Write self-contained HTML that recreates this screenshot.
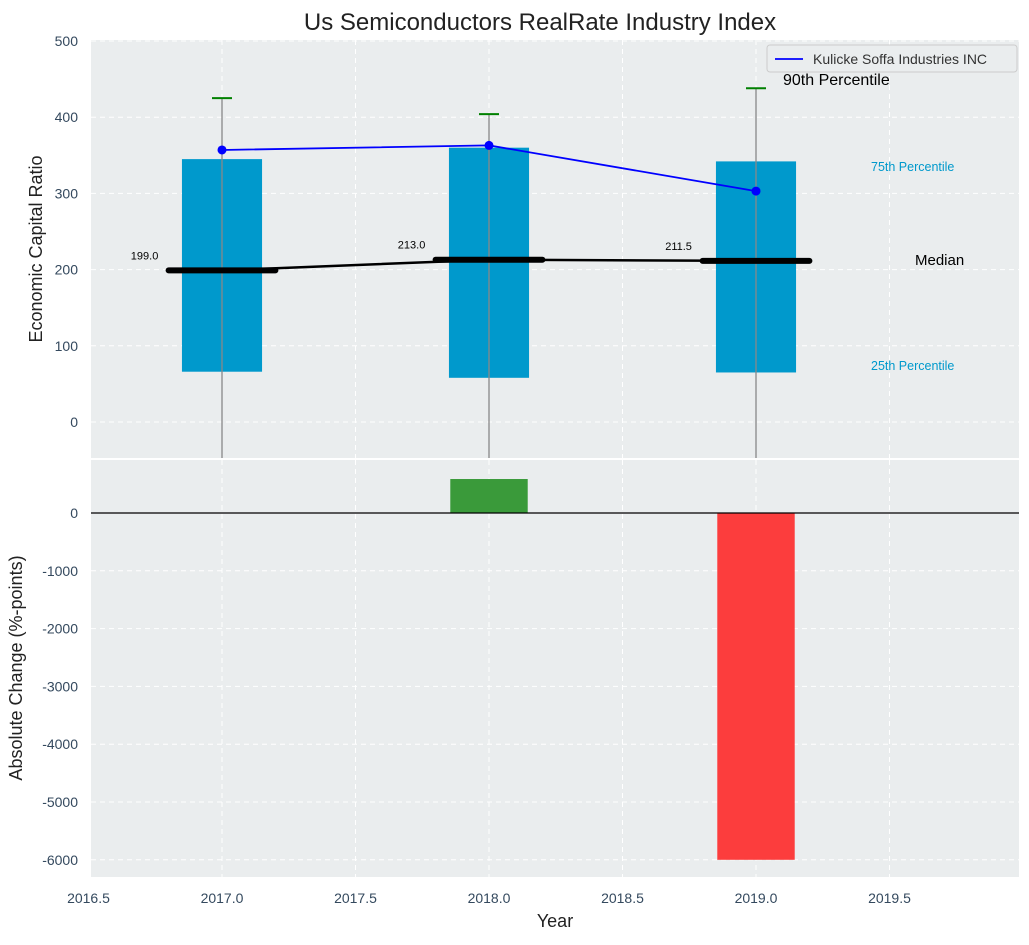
<!DOCTYPE html>
<html><head><meta charset="utf-8"><style>
body{margin:0;background:#fff;font-family:"Liberation Sans","DejaVu Sans",sans-serif}
svg text{font-family:"Liberation Sans","DejaVu Sans",sans-serif}
</style></head><body>
<svg id="c" width="1029" height="940" xmlns="http://www.w3.org/2000/svg"></svg>
<script>
const years=[2017,2018,2019];
const p25=[66,58,65];
const p75=[345,360,342];
const p90=[425,404,438];
const medians=[199,213,211.5];
const medianLabels=["199.0","213.0","211.5"];
const company=[357,363,303];
const changes=[0,588,-6000];
const xTicks=[2016.5,2017,2017.5,2018,2018.5,2019,2019.5];
const yTicksTop=[0,100,200,300,400,500];
const yTicksBot=[0,-1000,-2000,-3000,-4000,-5000,-6000];

const svg=document.getElementById('c');
const NS='http://www.w3.org/2000/svg';
function mk(t,a,p){const e=document.createElementNS(NS,t);for(const k in a)e.setAttribute(k,a[k]);(p||svg).appendChild(e);return e;}
const L=91,R=1019;
const x=v=>222+(v-2017)*267;
const yT=v=>422-v*0.762;
const yB=v=>513-v*0.0578;
const T0=40,T1=458,B0=460,B1=877;
const tickCol='#34495e';

let t=mk('text',{x:540,y:30,'text-anchor':'middle','font-size':24,fill:'#222'});t.textContent='Us Semiconductors RealRate Industry Index';


let pt=mk('rect',{x:L,y:T0,width:R-L,height:T1-T0,fill:'#eaedee'});

let pb=mk('rect',{x:L,y:B0,width:R-L,height:B1-B0,fill:'#eaedee'});


xTicks.forEach(v=>{
  mk('line',{x1:x(v),x2:x(v),y1:T0,y2:T1,stroke:'#fff','stroke-dasharray':'5,4'});
  mk('line',{x1:x(v),x2:x(v),y1:B0,y2:B1,stroke:'#fff','stroke-dasharray':'5,4'});
  let l=mk('text',{x:x(v),y:903,'text-anchor':'middle','font-size':14,fill:tickCol});l.textContent=v.toFixed(1);
  
});
yTicksTop.forEach(v=>{
  mk('line',{x1:L,x2:R,y1:yT(v),y2:yT(v),stroke:'#fff','stroke-dasharray':'5,4'});
  let l=mk('text',{x:78,y:yT(v)+5,'text-anchor':'end','font-size':14,fill:tickCol});l.textContent=v;
  
});
yTicksBot.forEach(v=>{
  mk('line',{x1:L,x2:R,y1:yB(v),y2:yB(v),stroke:'#fff','stroke-dasharray':'5,4'});
  let l=mk('text',{x:78,y:yB(v)+5,'text-anchor':'end','font-size':14,fill:tickCol});l.textContent=v;
  
});

years.forEach((yr,i)=>{
  let b=mk('rect',{x:x(yr-0.15),y:yT(p75[i]),width:x(yr+0.15)-x(yr-0.15),height:yT(p25[i])-yT(p75[i]),fill:'#0099cc'});
  
  let w=mk('line',{x1:x(yr),x2:x(yr),y1:yT(p90[i]),y2:T1,stroke:'#888','stroke-width':1.3});
  
  let c=mk('line',{x1:x(yr)-10,x2:x(yr)+10,y1:yT(p90[i]),y2:yT(p90[i]),stroke:'green','stroke-width':2});
  
});
let mp=mk('polyline',{points:years.map((yr,i)=>x(yr)+','+yT(medians[i])).join(' '),fill:'none',stroke:'#000','stroke-width':2.5});

years.forEach((yr,i)=>{
  let m=mk('line',{x1:x(yr-0.2),x2:x(yr+0.2),y1:yT(medians[i]),y2:yT(medians[i]),stroke:'#000','stroke-width':6,'stroke-linecap':'round'});
  
  let l=mk('text',{x:x(yr-0.29),y:yT(medians[i])-11,'text-anchor':'middle','font-size':11,fill:'#000'});l.textContent=medianLabels[i];
  
});
let cp=mk('polyline',{points:years.map((yr,i)=>x(yr)+','+yT(company[i])).join(' '),fill:'none',stroke:'blue','stroke-width':1.8});

years.forEach((yr,i)=>{let d=mk('circle',{cx:x(yr),cy:yT(company[i]),r:4.5,fill:'blue'});
  });

[['90th Percentile',783,85,16,'#000'],['75th Percentile',871,171,12.5,'#0099cc'],['Median',915,265,15,'#000'],['25th Percentile',871,370,12.5,'#0099cc']].forEach(a=>{
  let l=mk('text',{x:a[1],y:a[2],'font-size':a[3],fill:a[4]});l.textContent=a[0];
  
});

let lg=mk('g',{});
mk('rect',{x:767,y:45,width:250,height:27,rx:3,fill:'#eaedee',stroke:'#ccc'},lg);
mk('line',{x1:775,x2:803,y1:59,y2:59,stroke:'blue','stroke-width':1.8},lg);
let lt=mk('text',{x:813,y:64,'font-size':14,fill:'#333'},lg);lt.textContent='Kulicke Soffa Industries INC';

years.forEach((yr,i)=>{
  if(!changes[i])return;
  const y0=yB(Math.max(0,changes[i])),y1=yB(Math.min(0,changes[i]));
  let b=mk('rect',{x:x(yr-0.145),y:y0,width:x(yr+0.145)-x(yr-0.145),height:y1-y0,fill:changes[i]>0?'#3a9a3a':'#fc3d3d'});
  
});
let zl=mk('line',{x1:L,x2:R,y1:yB(0),y2:yB(0),stroke:'#000','stroke-width':1.2});


let ya=mk('text',{x:0,y:0,'font-size':18,fill:'#222','text-anchor':'middle',transform:'translate(42,249) rotate(-90)'});ya.textContent='Economic Capital Ratio';

let yb=mk('text',{x:0,y:0,'font-size':18,fill:'#222','text-anchor':'middle',transform:'translate(22,668) rotate(-90)'});yb.textContent='Absolute Change (%-points)';

let xa=mk('text',{x:555,y:927,'font-size':18,fill:'#222','text-anchor':'middle'});xa.textContent='Year';

</script>
</body></html>
